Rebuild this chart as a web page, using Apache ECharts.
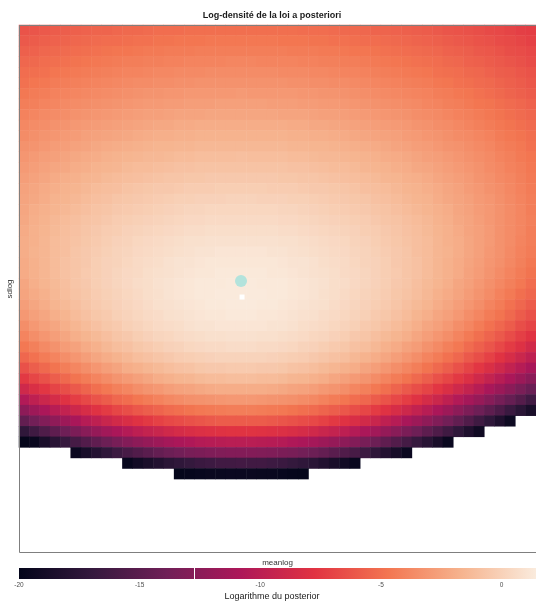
<!DOCTYPE html>
<html><head><meta charset="utf-8">
<script src="https://cdn.jsdelivr.net/npm/echarts@6/dist/echarts.min.js"></script>
<style>html,body{margin:0;padding:0;background:#fff}#chart{width:536px;height:602px}</style>
</head><body><div id="chart"></div>
<script>
const titleText = 'Log-densité de la loi a posteriori';
const xTitle = 'meanlog';
const yTitle = 'sdlog';
const legendTitle = 'Logarithme du posterior';
const colorMin = -20;
const colorMax = 1.43;
const colorTickStep = 5;
const colorMarker = -12.75;
const rocket = ['#03051A','#35193E','#701F57','#AD1759','#E13342','#F37651','#F6B48F','#FAEBDD'];
// marker positions in cell-index units (x: meanlog column, y: sdlog row counted from bottom)
const mapPoint = [20.97, 25.26];
const truePoint = [21.07, 23.74];
// log-posterior grid, rows from top (largest sdlog) to bottom, 50 meanlog columns; null = below -20
const logPost = [
[-6.3,-6.2,-6.0,-5.9,-5.8,-5.7,-5.6,-5.5,-5.5,-5.4,-5.3,-5.3,-5.2,-5.1,-5.1,-5.1,-5.0,-5.0,-5.0,-5.0,-5.0,-5.0,-5.0,-5.0,-5.0,-5.0,-5.0,-5.1,-5.1,-5.1,-5.2,-5.3,-5.3,-5.4,-5.5,-5.5,-5.6,-5.7,-5.8,-5.9,-6.0,-6.2,-6.3,-6.4,-6.5,-6.7,-6.8,-7.0,-7.2,-7.3],
[-6.0,-5.9,-5.7,-5.6,-5.5,-5.4,-5.3,-5.2,-5.1,-5.1,-5.0,-4.9,-4.9,-4.8,-4.8,-4.7,-4.7,-4.7,-4.6,-4.6,-4.6,-4.6,-4.6,-4.6,-4.6,-4.7,-4.7,-4.7,-4.8,-4.8,-4.9,-4.9,-5.0,-5.1,-5.1,-5.2,-5.3,-5.4,-5.5,-5.6,-5.7,-5.9,-6.0,-6.1,-6.3,-6.4,-6.6,-6.7,-6.9,-7.1],
[-5.7,-5.6,-5.4,-5.3,-5.2,-5.1,-5.0,-4.9,-4.8,-4.7,-4.7,-4.6,-4.5,-4.5,-4.4,-4.4,-4.4,-4.3,-4.3,-4.3,-4.3,-4.3,-4.3,-4.3,-4.3,-4.3,-4.4,-4.4,-4.4,-4.5,-4.5,-4.6,-4.7,-4.7,-4.8,-4.9,-5.0,-5.1,-5.2,-5.3,-5.4,-5.6,-5.7,-5.8,-6.0,-6.1,-6.3,-6.5,-6.6,-6.8],
[-5.4,-5.3,-5.1,-5.0,-4.9,-4.8,-4.7,-4.6,-4.5,-4.4,-4.3,-4.3,-4.2,-4.2,-4.1,-4.1,-4.0,-4.0,-4.0,-4.0,-3.9,-3.9,-3.9,-4.0,-4.0,-4.0,-4.0,-4.1,-4.1,-4.2,-4.2,-4.3,-4.3,-4.4,-4.5,-4.6,-4.7,-4.8,-4.9,-5.0,-5.1,-5.3,-5.4,-5.6,-5.7,-5.9,-6.0,-6.2,-6.4,-6.6],
[-5.1,-5.0,-4.9,-4.7,-4.6,-4.5,-4.4,-4.3,-4.2,-4.1,-4.0,-4.0,-3.9,-3.8,-3.8,-3.7,-3.7,-3.7,-3.6,-3.6,-3.6,-3.6,-3.6,-3.6,-3.6,-3.7,-3.7,-3.7,-3.8,-3.8,-3.9,-4.0,-4.0,-4.1,-4.2,-4.3,-4.4,-4.5,-4.6,-4.7,-4.9,-5.0,-5.1,-5.3,-5.4,-5.6,-5.8,-5.9,-6.1,-6.3],
[-4.9,-4.7,-4.6,-4.4,-4.3,-4.2,-4.1,-4.0,-3.9,-3.8,-3.7,-3.6,-3.6,-3.5,-3.5,-3.4,-3.4,-3.3,-3.3,-3.3,-3.3,-3.3,-3.3,-3.3,-3.3,-3.3,-3.4,-3.4,-3.5,-3.5,-3.6,-3.6,-3.7,-3.8,-3.9,-4.0,-4.1,-4.2,-4.3,-4.4,-4.6,-4.7,-4.9,-5.0,-5.2,-5.3,-5.5,-5.7,-5.9,-6.1],
[-4.6,-4.4,-4.3,-4.1,-4.0,-3.9,-3.8,-3.7,-3.6,-3.5,-3.4,-3.3,-3.2,-3.2,-3.1,-3.1,-3.0,-3.0,-3.0,-3.0,-3.0,-2.9,-3.0,-3.0,-3.0,-3.0,-3.0,-3.1,-3.1,-3.2,-3.2,-3.3,-3.4,-3.5,-3.6,-3.7,-3.8,-3.9,-4.0,-4.1,-4.3,-4.4,-4.6,-4.7,-4.9,-5.1,-5.3,-5.5,-5.7,-5.9],
[-4.3,-4.2,-4.0,-3.9,-3.7,-3.6,-3.5,-3.4,-3.3,-3.2,-3.1,-3.0,-2.9,-2.9,-2.8,-2.8,-2.7,-2.7,-2.7,-2.6,-2.6,-2.6,-2.6,-2.6,-2.7,-2.7,-2.7,-2.8,-2.8,-2.9,-2.9,-3.0,-3.1,-3.2,-3.3,-3.4,-3.5,-3.6,-3.7,-3.9,-4.0,-4.2,-4.3,-4.5,-4.7,-4.8,-5.0,-5.2,-5.4,-5.6],
[-4.1,-3.9,-3.7,-3.6,-3.5,-3.3,-3.2,-3.1,-3.0,-2.9,-2.8,-2.7,-2.6,-2.6,-2.5,-2.4,-2.4,-2.4,-2.3,-2.3,-2.3,-2.3,-2.3,-2.3,-2.3,-2.4,-2.4,-2.4,-2.5,-2.6,-2.6,-2.7,-2.8,-2.9,-3.0,-3.1,-3.2,-3.3,-3.5,-3.6,-3.7,-3.9,-4.1,-4.2,-4.4,-4.6,-4.8,-5.0,-5.2,-5.4],
[-3.8,-3.6,-3.5,-3.3,-3.2,-3.0,-2.9,-2.8,-2.7,-2.6,-2.5,-2.4,-2.3,-2.2,-2.2,-2.1,-2.1,-2.0,-2.0,-2.0,-2.0,-2.0,-2.0,-2.0,-2.0,-2.0,-2.1,-2.1,-2.2,-2.2,-2.3,-2.4,-2.5,-2.6,-2.7,-2.8,-2.9,-3.0,-3.2,-3.3,-3.5,-3.6,-3.8,-4.0,-4.2,-4.4,-4.6,-4.8,-5.0,-5.2],
[-3.6,-3.4,-3.2,-3.1,-2.9,-2.8,-2.6,-2.5,-2.4,-2.3,-2.2,-2.1,-2.0,-1.9,-1.9,-1.8,-1.8,-1.7,-1.7,-1.7,-1.7,-1.7,-1.7,-1.7,-1.7,-1.7,-1.8,-1.8,-1.9,-1.9,-2.0,-2.1,-2.2,-2.3,-2.4,-2.5,-2.6,-2.8,-2.9,-3.1,-3.2,-3.4,-3.6,-3.7,-3.9,-4.1,-4.4,-4.6,-4.8,-5.0],
[-3.3,-3.2,-3.0,-2.8,-2.7,-2.5,-2.4,-2.2,-2.1,-2.0,-1.9,-1.8,-1.7,-1.6,-1.6,-1.5,-1.5,-1.4,-1.4,-1.4,-1.4,-1.4,-1.4,-1.4,-1.4,-1.4,-1.5,-1.5,-1.6,-1.6,-1.7,-1.8,-1.9,-2.0,-2.1,-2.2,-2.4,-2.5,-2.7,-2.8,-3.0,-3.2,-3.3,-3.5,-3.7,-3.9,-4.2,-4.4,-4.6,-4.9],
[-3.1,-2.9,-2.7,-2.6,-2.4,-2.2,-2.1,-2.0,-1.8,-1.7,-1.6,-1.5,-1.4,-1.4,-1.3,-1.2,-1.2,-1.1,-1.1,-1.1,-1.1,-1.0,-1.1,-1.1,-1.1,-1.1,-1.2,-1.2,-1.3,-1.4,-1.4,-1.5,-1.6,-1.7,-1.8,-2.0,-2.1,-2.2,-2.4,-2.6,-2.7,-2.9,-3.1,-3.3,-3.5,-3.7,-4.0,-4.2,-4.5,-4.7],
[-2.9,-2.7,-2.5,-2.3,-2.2,-2.0,-1.9,-1.7,-1.6,-1.5,-1.3,-1.2,-1.2,-1.1,-1.0,-0.9,-0.9,-0.8,-0.8,-0.8,-0.8,-0.8,-0.8,-0.8,-0.8,-0.8,-0.9,-0.9,-1.0,-1.1,-1.2,-1.2,-1.3,-1.5,-1.6,-1.7,-1.9,-2.0,-2.2,-2.3,-2.5,-2.7,-2.9,-3.1,-3.3,-3.6,-3.8,-4.1,-4.3,-4.6],
[-2.7,-2.5,-2.3,-2.1,-1.9,-1.8,-1.6,-1.5,-1.3,-1.2,-1.1,-1.0,-0.9,-0.8,-0.7,-0.7,-0.6,-0.6,-0.5,-0.5,-0.5,-0.5,-0.5,-0.5,-0.5,-0.6,-0.6,-0.7,-0.7,-0.8,-0.9,-1.0,-1.1,-1.2,-1.3,-1.5,-1.6,-1.8,-1.9,-2.1,-2.3,-2.5,-2.7,-2.9,-3.2,-3.4,-3.7,-3.9,-4.2,-4.5],
[-2.5,-2.3,-2.1,-1.9,-1.7,-1.6,-1.4,-1.2,-1.1,-1.0,-0.8,-0.7,-0.6,-0.5,-0.5,-0.4,-0.3,-0.3,-0.3,-0.2,-0.2,-0.2,-0.2,-0.2,-0.3,-0.3,-0.3,-0.4,-0.5,-0.5,-0.6,-0.7,-0.8,-1.0,-1.1,-1.2,-1.4,-1.6,-1.7,-1.9,-2.1,-2.3,-2.5,-2.8,-3.0,-3.3,-3.5,-3.8,-4.1,-4.4],
[-2.4,-2.2,-2.0,-1.7,-1.6,-1.4,-1.2,-1.0,-0.9,-0.7,-0.6,-0.5,-0.4,-0.3,-0.2,-0.1,-0.1,0.0,0.0,0.0,0.1,0.1,0.1,0.0,0.0,0.0,-0.1,-0.1,-0.2,-0.3,-0.4,-0.5,-0.6,-0.7,-0.9,-1.0,-1.2,-1.4,-1.6,-1.7,-2.0,-2.2,-2.4,-2.6,-2.9,-3.1,-3.4,-3.7,-4.0,-4.3],
[-2.3,-2.0,-1.8,-1.6,-1.4,-1.2,-1.0,-0.8,-0.7,-0.5,-0.4,-0.3,-0.2,-0.1,0.0,0.1,0.2,0.2,0.3,0.3,0.3,0.3,0.3,0.3,0.3,0.2,0.2,0.1,0.0,-0.1,-0.2,-0.3,-0.4,-0.5,-0.7,-0.8,-1.0,-1.2,-1.4,-1.6,-1.8,-2.0,-2.3,-2.5,-2.8,-3.0,-3.3,-3.6,-3.9,-4.3],
[-2.2,-1.9,-1.7,-1.4,-1.2,-1.0,-0.8,-0.7,-0.5,-0.3,-0.2,-0.1,0.0,0.1,0.2,0.3,0.4,0.4,0.5,0.5,0.5,0.5,0.5,0.5,0.5,0.4,0.4,0.3,0.2,0.1,0.0,-0.1,-0.2,-0.3,-0.5,-0.7,-0.8,-1.0,-1.2,-1.4,-1.7,-1.9,-2.2,-2.4,-2.7,-3.0,-3.3,-3.6,-3.9,-4.2],
[-2.1,-1.8,-1.6,-1.3,-1.1,-0.9,-0.7,-0.5,-0.3,-0.2,0.0,0.1,0.2,0.3,0.4,0.5,0.6,0.6,0.7,0.7,0.7,0.7,0.7,0.7,0.7,0.6,0.6,0.5,0.4,0.3,0.2,0.1,0.0,-0.2,-0.3,-0.5,-0.7,-0.9,-1.1,-1.3,-1.6,-1.8,-2.1,-2.4,-2.6,-2.9,-3.3,-3.6,-3.9,-4.3],
[-2.0,-1.8,-1.5,-1.2,-1.0,-0.8,-0.6,-0.4,-0.2,0.0,0.1,0.3,0.4,0.5,0.6,0.7,0.8,0.8,0.9,0.9,0.9,0.9,0.9,0.9,0.9,0.8,0.8,0.7,0.6,0.5,0.4,0.3,0.1,0.0,-0.2,-0.4,-0.6,-0.8,-1.0,-1.2,-1.5,-1.8,-2.0,-2.3,-2.6,-2.9,-3.3,-3.6,-4.0,-4.3],
[-2.0,-1.7,-1.5,-1.2,-1.0,-0.7,-0.5,-0.3,-0.1,0.1,0.2,0.4,0.5,0.6,0.7,0.8,0.9,1.0,1.0,1.1,1.1,1.1,1.1,1.1,1.0,1.0,0.9,0.8,0.7,0.6,0.5,0.4,0.2,0.1,-0.1,-0.3,-0.5,-0.7,-1.0,-1.2,-1.5,-1.7,-2.0,-2.3,-2.6,-3.0,-3.3,-3.7,-4.1,-4.4],
[-2.1,-1.8,-1.5,-1.2,-0.9,-0.7,-0.5,-0.2,0.0,0.1,0.3,0.5,0.6,0.7,0.9,1.0,1.0,1.1,1.2,1.2,1.2,1.2,1.2,1.2,1.2,1.1,1.0,1.0,0.9,0.7,0.6,0.5,0.3,0.1,0.0,-0.2,-0.5,-0.7,-0.9,-1.2,-1.5,-1.8,-2.1,-2.4,-2.7,-3.1,-3.4,-3.8,-4.2,-4.6],
[-2.1,-1.8,-1.5,-1.2,-0.9,-0.7,-0.4,-0.2,0.0,0.2,0.4,0.5,0.7,0.8,0.9,1.0,1.1,1.2,1.2,1.3,1.3,1.3,1.3,1.3,1.2,1.2,1.1,1.0,0.9,0.8,0.7,0.5,0.4,0.2,0.0,-0.2,-0.4,-0.7,-0.9,-1.2,-1.5,-1.8,-2.1,-2.5,-2.8,-3.2,-3.6,-4.0,-4.4,-4.8],
[-2.3,-1.9,-1.6,-1.3,-1.0,-0.7,-0.5,-0.2,0.0,0.2,0.4,0.6,0.7,0.9,1.0,1.1,1.2,1.3,1.3,1.3,1.4,1.4,1.4,1.3,1.3,1.3,1.2,1.1,1.0,0.9,0.7,0.6,0.4,0.2,0.0,-0.2,-0.5,-0.7,-1.0,-1.3,-1.6,-1.9,-2.3,-2.6,-3.0,-3.4,-3.8,-4.2,-4.6,-5.1],
[-2.4,-2.1,-1.8,-1.4,-1.1,-0.8,-0.6,-0.3,-0.1,0.1,0.3,0.5,0.7,0.8,1.0,1.1,1.2,1.3,1.3,1.4,1.4,1.4,1.4,1.4,1.3,1.3,1.2,1.1,1.0,0.8,0.7,0.5,0.3,0.1,-0.1,-0.3,-0.6,-0.8,-1.1,-1.4,-1.8,-2.1,-2.4,-2.8,-3.2,-3.6,-4.1,-4.5,-5.0,-5.4],
[-2.7,-2.3,-2.0,-1.6,-1.3,-1.0,-0.7,-0.4,-0.2,0.0,0.2,0.4,0.6,0.8,0.9,1.0,1.1,1.2,1.3,1.3,1.4,1.4,1.4,1.3,1.3,1.2,1.1,1.0,0.9,0.8,0.6,0.4,0.2,0.0,-0.2,-0.4,-0.7,-1.0,-1.3,-1.6,-2.0,-2.3,-2.7,-3.1,-3.5,-4.0,-4.4,-4.9,-5.4,-5.9],
[-3.0,-2.6,-2.3,-1.9,-1.6,-1.2,-0.9,-0.6,-0.4,-0.1,0.1,0.3,0.5,0.6,0.8,0.9,1.0,1.1,1.2,1.2,1.3,1.3,1.3,1.2,1.2,1.1,1.0,0.9,0.8,0.6,0.5,0.3,0.1,-0.1,-0.4,-0.6,-0.9,-1.2,-1.6,-1.9,-2.3,-2.6,-3.0,-3.5,-3.9,-4.4,-4.8,-5.3,-5.9,-6.4],
[-3.5,-3.0,-2.6,-2.3,-1.9,-1.5,-1.2,-0.9,-0.6,-0.4,-0.1,0.1,0.3,0.5,0.6,0.7,0.9,1.0,1.0,1.1,1.1,1.1,1.1,1.1,1.0,1.0,0.9,0.7,0.6,0.5,0.3,0.1,-0.1,-0.4,-0.6,-0.9,-1.2,-1.5,-1.9,-2.3,-2.6,-3.0,-3.5,-3.9,-4.4,-4.9,-5.4,-5.9,-6.5,-7.0],
[-4.0,-3.5,-3.1,-2.7,-2.3,-1.9,-1.6,-1.3,-1.0,-0.7,-0.5,-0.2,0.0,0.2,0.3,0.5,0.6,0.7,0.8,0.8,0.9,0.9,0.9,0.8,0.8,0.7,0.6,0.5,0.3,0.2,0.0,-0.2,-0.5,-0.7,-1.0,-1.3,-1.6,-1.9,-2.3,-2.7,-3.1,-3.5,-4.0,-4.5,-5.0,-5.5,-6.0,-6.6,-7.2,-7.8],
[-4.6,-4.2,-3.7,-3.3,-2.8,-2.5,-2.1,-1.8,-1.4,-1.1,-0.9,-0.6,-0.4,-0.2,0.0,0.1,0.3,0.4,0.5,0.5,0.6,0.6,0.6,0.5,0.5,0.4,0.3,0.1,0.0,-0.2,-0.4,-0.6,-0.9,-1.1,-1.4,-1.8,-2.1,-2.5,-2.8,-3.3,-3.7,-4.2,-4.6,-5.2,-5.7,-6.2,-6.8,-7.4,-8.0,-8.7],
[-5.4,-4.9,-4.4,-4.0,-3.5,-3.1,-2.7,-2.3,-2.0,-1.7,-1.4,-1.1,-0.9,-0.7,-0.5,-0.3,-0.2,-0.1,0.0,0.1,0.1,0.1,0.1,0.1,0.0,-0.1,-0.2,-0.3,-0.5,-0.7,-0.9,-1.1,-1.4,-1.7,-2.0,-2.3,-2.7,-3.1,-3.5,-4.0,-4.4,-4.9,-5.4,-6.0,-6.5,-7.1,-7.8,-8.4,-9.1,-9.8],
[-6.4,-5.8,-5.3,-4.8,-4.3,-3.9,-3.5,-3.1,-2.7,-2.4,-2.0,-1.8,-1.5,-1.3,-1.1,-0.9,-0.8,-0.6,-0.5,-0.5,-0.4,-0.4,-0.4,-0.5,-0.5,-0.6,-0.8,-0.9,-1.1,-1.3,-1.5,-1.8,-2.0,-2.4,-2.7,-3.1,-3.5,-3.9,-4.3,-4.8,-5.3,-5.8,-6.4,-7.0,-7.6,-8.2,-8.9,-9.6,-10.3,-11.0],
[-7.5,-6.9,-6.4,-5.8,-5.3,-4.8,-4.4,-4.0,-3.6,-3.2,-2.9,-2.6,-2.3,-2.0,-1.8,-1.6,-1.5,-1.3,-1.2,-1.2,-1.1,-1.1,-1.1,-1.2,-1.2,-1.3,-1.5,-1.6,-1.8,-2.0,-2.3,-2.6,-2.9,-3.2,-3.6,-4.0,-4.4,-4.8,-5.3,-5.8,-6.4,-6.9,-7.5,-8.1,-8.8,-9.5,-10.2,-10.9,-11.7,-12.5],
[-8.9,-8.2,-7.6,-7.0,-6.5,-6.0,-5.5,-5.0,-4.6,-4.2,-3.9,-3.5,-3.2,-3.0,-2.7,-2.5,-2.4,-2.2,-2.1,-2.0,-2.0,-2.0,-2.0,-2.0,-2.1,-2.2,-2.4,-2.5,-2.7,-3.0,-3.2,-3.5,-3.9,-4.2,-4.6,-5.0,-5.5,-6.0,-6.5,-7.0,-7.6,-8.2,-8.9,-9.5,-10.2,-11.0,-11.7,-12.5,-13.4,-14.2],
[-10.5,-9.8,-9.1,-8.5,-7.9,-7.3,-6.8,-6.3,-5.9,-5.4,-5.1,-4.7,-4.4,-4.1,-3.8,-3.6,-3.4,-3.3,-3.2,-3.1,-3.0,-3.0,-3.0,-3.1,-3.2,-3.3,-3.4,-3.6,-3.8,-4.1,-4.4,-4.7,-5.1,-5.4,-5.9,-6.3,-6.8,-7.3,-7.9,-8.5,-9.1,-9.8,-10.5,-11.2,-11.9,-12.7,-13.6,-14.4,-15.3,-16.3],
[-12.4,-11.6,-10.9,-10.2,-9.6,-9.0,-8.4,-7.9,-7.4,-6.9,-6.5,-6.1,-5.8,-5.5,-5.2,-5.0,-4.8,-4.6,-4.5,-4.4,-4.3,-4.3,-4.3,-4.4,-4.5,-4.6,-4.8,-5.0,-5.2,-5.5,-5.8,-6.1,-6.5,-6.9,-7.4,-7.9,-8.4,-9.0,-9.6,-10.2,-10.9,-11.6,-12.4,-13.2,-14.0,-14.8,-15.7,-16.7,-17.6,-18.6],
[-14.6,-13.8,-13.0,-12.3,-11.6,-11.0,-10.3,-9.8,-9.2,-8.7,-8.3,-7.9,-7.5,-7.1,-6.8,-6.6,-6.4,-6.2,-6.0,-5.9,-5.9,-5.9,-5.9,-5.9,-6.0,-6.2,-6.4,-6.6,-6.8,-7.1,-7.5,-7.9,-8.3,-8.7,-9.2,-9.8,-10.3,-11.0,-11.6,-12.3,-13.0,-13.8,-14.6,-15.5,-16.4,-17.3,-18.3,-19.3,null,null],
[-17.3,-16.4,-15.6,-14.8,-14.0,-13.3,-12.6,-12.0,-11.4,-10.9,-10.4,-9.9,-9.5,-9.2,-8.8,-8.5,-8.3,-8.1,-8.0,-7.9,-7.8,-7.8,-7.8,-7.9,-8.0,-8.1,-8.3,-8.5,-8.8,-9.2,-9.5,-9.9,-10.4,-10.9,-11.4,-12.0,-12.6,-13.3,-14.0,-14.8,-15.6,-16.4,-17.3,-18.3,-19.2,null,null,null,null,null],
[-19.9,-19.6,-18.6,-17.7,-16.9,-16.1,-15.4,-14.7,-14.1,-13.5,-12.9,-12.4,-12.0,-11.6,-11.2,-10.9,-10.7,-10.4,-10.3,-10.2,-10.1,-10.1,-10.1,-10.2,-10.3,-10.4,-10.7,-10.9,-11.2,-11.6,-12.0,-12.4,-12.9,-13.5,-14.1,-14.7,-15.4,-16.1,-16.9,-17.7,-18.6,-19.6,null,null,null,null,null,null,null,null],
[null,null,null,null,null,-19.5,-18.7,-18.0,-17.3,-16.6,-16.0,-15.5,-15.0,-14.5,-14.1,-13.8,-13.5,-13.3,-13.1,-13.0,-12.9,-12.9,-12.9,-13.0,-13.1,-13.3,-13.5,-13.8,-14.1,-14.5,-15.0,-15.5,-16.0,-16.6,-17.3,-18.0,-18.7,-19.5,null,null,null,null,null,null,null,null,null,null,null,null],
[null,null,null,null,null,null,null,null,null,null,-19.7,-19.1,-18.6,-18.1,-17.6,-17.3,-17.0,-16.7,-16.5,-16.3,-16.3,-16.2,-16.3,-16.3,-16.5,-16.7,-17.0,-17.3,-17.6,-18.1,-18.6,-19.1,-19.7,null,null,null,null,null,null,null,null,null,null,null,null,null,null,null,null,null],
[null,null,null,null,null,null,null,null,null,null,null,null,null,null,null,-19.9,-19.8,-19.7,-19.6,-19.6,-19.5,-19.5,-19.5,-19.6,-19.6,-19.7,-19.8,-19.9,null,null,null,null,null,null,null,null,null,null,null,null,null,null,null,null,null,null,null,null,null,null],
[],[],[],[],[],[],[]
];

const nCols = 50, nRows = logPost.length;
const colIdx = Array.from({length: nCols}, (_, i) => String(i));
const rowIdx = Array.from({length: nRows}, (_, i) => String(i));
const cells = [];
logPost.forEach((row, r) => row.forEach((v, c) => { if (v !== null) cells.push([c, nRows - 1 - r, v]); }));

const FONT = '"Liberation Sans", Arial, sans-serif';
const P = {left: 19, top: 25, width: 517, height: 528};
const CB = {left: 19, top: 568, width: 517, height: 11};

const chart = echarts.init(document.getElementById('chart'), null, {renderer: 'canvas'});
const option = {
  animation: false,
  title: {text: titleText, left: 267, top: 6, textAlign: 'center',
    textStyle: {fontFamily: FONT, fontWeight: 'bold', fontSize: 9, color: '#1a1a1a'}},
  grid: [
    {left: P.left, top: P.top, width: P.width, height: P.height, show: false, containLabel: false, outerBoundsMode: 'none'},
    {left: CB.left, top: CB.top, width: CB.width, height: CB.height, containLabel: false, outerBoundsMode: 'none'}
  ],
  xAxis: [
    {type: 'category', gridIndex: 0, data: colIdx, axisLine: {show: false}, axisTick: {show: false}, axisLabel: {show: false}, splitLine: {show: false},
     name: xTitle, nameLocation: 'middle', nameGap: 6, nameTextStyle: {fontFamily: FONT, fontSize: 8, color: '#333'}},
    {type: 'value', gridIndex: 0, min: -0.5, max: nCols - 0.5, show: false},
    {type: 'value', gridIndex: 1, min: colorMin, max: colorMax, interval: colorTickStep,
     axisLine: {show: false}, axisTick: {show: false}, splitLine: {show: false},
     axisLabel: {fontFamily: FONT, fontSize: 6.5, color: '#4d4d4d', margin: 3, showMaxLabel: false}}
  ],
  yAxis: [
    {type: 'category', gridIndex: 0, data: rowIdx, axisLine: {show: false}, axisTick: {show: false}, axisLabel: {show: false}, splitLine: {show: false},
     name: yTitle, nameLocation: 'middle', nameGap: 5, nameTextStyle: {fontFamily: FONT, fontSize: 8, color: '#333'}},
    {type: 'value', gridIndex: 0, min: -0.5, max: nRows - 0.5, show: false},
    {type: 'value', gridIndex: 1, min: 0, max: 1, show: false}
  ],
  visualMap: {type: 'continuous', show: false, min: colorMin, max: colorMax, seriesIndex: 0, inRange: {color: rocket}},
  series: [
    {type: 'heatmap', xAxisIndex: 0, yAxisIndex: 0, data: cells, progressive: 0, emphasis: {disabled: true}, itemStyle: {borderWidth: 0}},
    {type: 'scatter', xAxisIndex: 1, yAxisIndex: 1, data: [mapPoint], symbol: 'circle', symbolSize: 12, itemStyle: {color: '#b3e3dc', opacity: 1}, z: 5, silent: true},
    {type: 'scatter', xAxisIndex: 1, yAxisIndex: 1, data: [truePoint], symbol: 'rect', symbolSize: 5, itemStyle: {color: '#ffffff', opacity: 1}, z: 5, silent: true}
  ]
};
chart.setOption(option);

const markX = chart.convertToPixel({xAxisIndex: 2}, colorMarker);
chart.setOption({
  graphic: [
    {type: 'rect', silent: true, z: 10,
     shape: {x: CB.left, y: CB.top, width: CB.width, height: CB.height},
     style: {fill: new echarts.graphic.LinearGradient(0, 0, 1, 0, rocket.map((c, i) => ({offset: i / (rocket.length - 1), color: c})))}},
    {type: 'line', silent: true, z: 11,
     shape: {x1: Math.round(markX) + 0.5, y1: CB.top, x2: Math.round(markX) + 0.5, y2: CB.top + CB.height},
     style: {stroke: '#ffffff', lineWidth: 1}},
    {type: 'rect', silent: true, z: 12,
     shape: {x: P.left + 0.5, y: P.top + 0.5, width: P.width, height: P.height - 1},
     style: {fill: 'none', stroke: '#7f7f7f', lineWidth: 1}},
    {type: 'text', silent: true, z: 12, x: 272, y: 597,
     style: {text: legendTitle, textAlign: 'center', textVerticalAlign: 'middle', font: '9px ' + FONT, fill: '#1a1a1a'}}
  ]
});
</script>
</body></html>
